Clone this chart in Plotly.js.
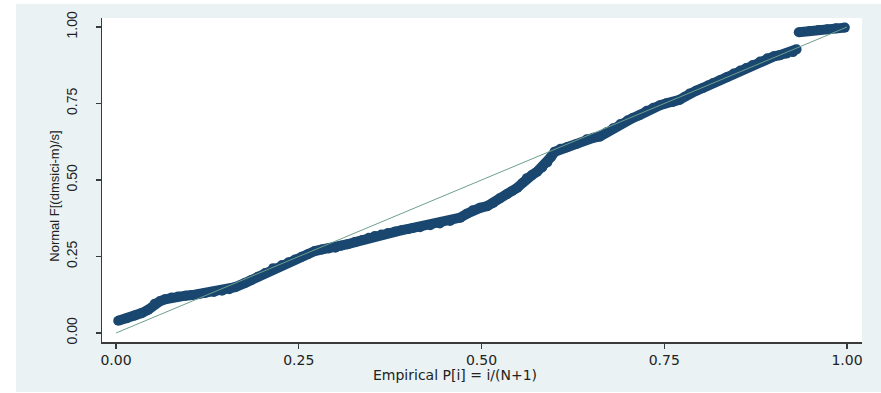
<!DOCTYPE html>
<html>
<head>
<meta charset="utf-8">
<script src="https://cdn.plot.ly/plotly-3.0.1.min.js"></script>
<style>
  html, body { margin: 0; padding: 0; background: #ffffff; width: 881px; height: 393px; overflow: hidden; }
  #chart { position: absolute; left: 16px; top: 4px; width: 865px; height: 388px; }
</style>
</head>
<body>
<div id="chart"></div>
<script>
// Empirical P[i] = i/(N+1) (lower run, before the jump)
var empiricalLow = [0.003,0.015,0.026,0.035,0.044,0.053,0.060,0.067,0.076,0.085,0.095,0.104,0.113,0.122,0.134,0.145,0.155,0.163,0.176,0.185,0.194,0.204,0.215,0.227,0.236,0.245,0.254,0.263,0.272,0.282,0.291,0.300,0.308,0.317,0.327,0.337,0.346,0.354,0.363,0.372,0.382,0.391,0.400,0.406,0.416,0.430,0.443,0.457,0.471,0.480,0.488,0.498,0.508,0.516,0.525,0.535,0.542,0.549,0.556,0.562,0.569,0.576,0.583,0.590,0.595,0.600,0.608,0.617,0.630,0.644,0.653,0.662,0.671,0.680,0.690,0.700,0.707,0.716,0.726,0.735,0.744,0.753,0.762,0.771,0.778,0.785,0.794,0.803,0.810,0.817,0.826,0.836,0.845,0.854,0.862,0.871,0.881,0.891,0.900,0.908,0.917,0.926,0.931];
// Normal F[(dmsici-m)/s] (lower run)
var normalLow = [0.040,0.048,0.057,0.065,0.076,0.096,0.104,0.110,0.116,0.119,0.122,0.124,0.127,0.131,0.134,0.138,0.143,0.150,0.163,0.173,0.184,0.196,0.212,0.222,0.231,0.240,0.249,0.258,0.268,0.273,0.276,0.279,0.285,0.290,0.297,0.304,0.311,0.317,0.322,0.327,0.332,0.336,0.340,0.343,0.346,0.352,0.358,0.366,0.377,0.390,0.401,0.409,0.415,0.425,0.440,0.454,0.464,0.475,0.490,0.506,0.516,0.527,0.541,0.557,0.575,0.592,0.602,0.607,0.618,0.633,0.638,0.642,0.656,0.669,0.683,0.695,0.703,0.712,0.726,0.736,0.744,0.751,0.755,0.762,0.772,0.783,0.792,0.801,0.809,0.817,0.826,0.837,0.848,0.858,0.866,0.876,0.887,0.898,0.904,0.908,0.913,0.918,0.927];
// upper run, after the jump
var empiricalHigh = [0.934,0.949,0.961,0.973,0.985,0.997];
var normalHigh = [0.983,0.987,0.990,0.993,0.996,0.998];
// reference line
var refX = [0, 1];
var refY = [0, 1];
var tickVals = [0, 0.25, 0.5, 0.75, 1];
var tickText = ["0.00", "0.25", "0.50", "0.75", "1.00"];
var xTitle = "Empirical P[i] = i/(N+1)";
var yTitle = "Normal F[(dmsici-m)/s]";

var markerColor = "#1a476f";
var pts = {
  mode: "lines+markers",
  marker: { color: markerColor, size: 10, line: { width: 0 } },
  line: { color: markerColor, width: 10 },
  showlegend: false, hoverinfo: "x+y"
};
var traces = [
  Object.assign({ type: "scatter", x: empiricalLow, y: normalLow }, pts),
  Object.assign({ type: "scatter", x: empiricalHigh, y: normalHigh }, pts),
  { type: "scatter", mode: "lines", x: refX, y: refY, line: { color: "#6e9f8d", width: 1 }, showlegend: false, hoverinfo: "skip" }
];

var layout = {
  width: 865, height: 388,
  paper_bgcolor: "#eaf2f3",
  plot_bgcolor: "#ffffff",
  margin: { l: 86, r: 19, t: 14, b: 50 },
  showlegend: false,
  xaxis: {
    range: [-0.0192, 1.0205],
    tickvals: tickVals, ticktext: tickText,
    ticks: "outside", ticklen: 5, tickwidth: 1.2, tickcolor: "#3a3a3a",
    showline: true, linecolor: "#3a3a3a", linewidth: 1.5,
    showgrid: false, zeroline: false,
    tickfont: { family: "DejaVu Sans", size: 14, color: "#222222" }
  },
  yaxis: {
    range: [-0.0294, 1.0294],
    tickvals: tickVals, ticktext: tickText,
    tickangle: -90,
    ticks: "outside", ticklen: 5, tickwidth: 1.2, tickcolor: "#3a3a3a",
    ticklabelstandoff: 13,
    showline: true, linecolor: "#3a3a3a", linewidth: 1.5,
    showgrid: false, zeroline: false,
    tickfont: { family: "Liberation Sans", size: 14, color: "#222222" }
  },
  annotations: [
    { text: xTitle, xref: "paper", yref: "paper", x: 0.464, y: -0.102, xanchor: "center", yanchor: "middle", showarrow: false,
      font: { family: "DejaVu Sans", size: 14, color: "#222222" } },
    { text: yTitle, xref: "paper", yref: "paper", x: -0.0625, y: 0.45, xanchor: "center", yanchor: "middle", textangle: -90, showarrow: false,
      font: { family: "Liberation Sans", size: 13, color: "#222222" } }
  ]
};

Plotly.newPlot("chart", traces, layout, { displayModeBar: false, staticPlot: true });
</script>
</body>
</html>
